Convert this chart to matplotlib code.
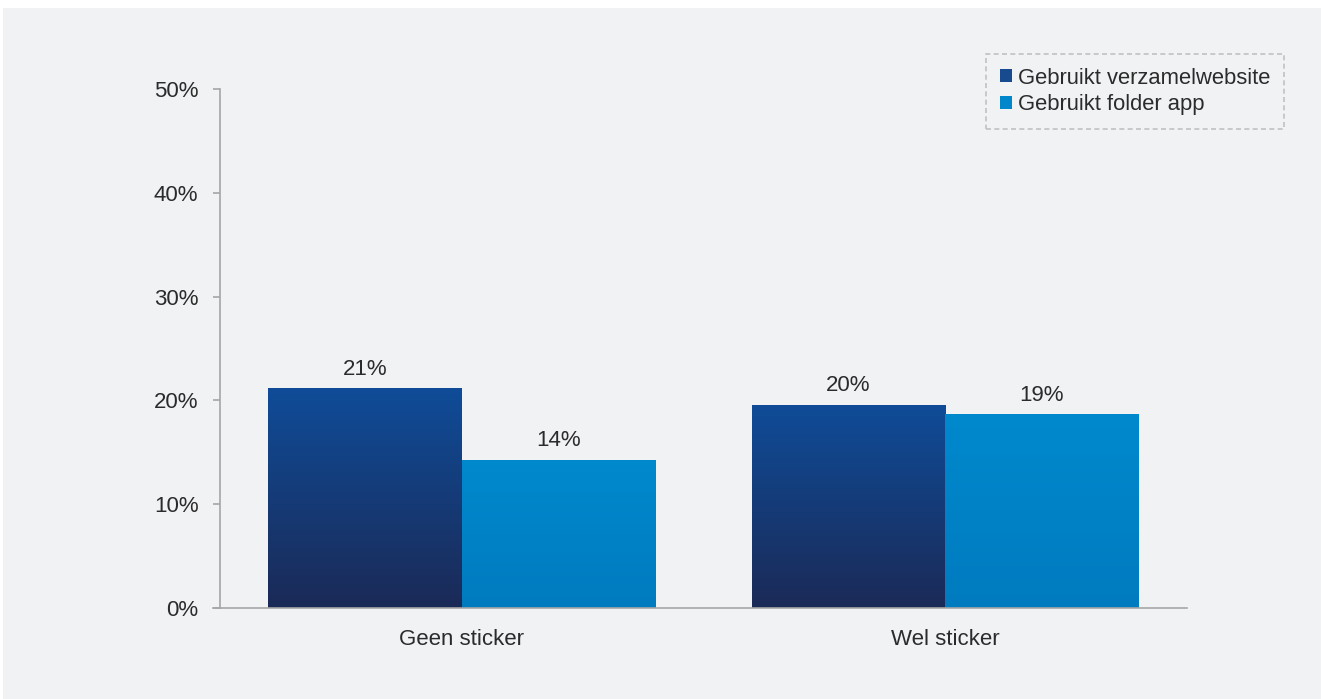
import matplotlib
matplotlib.use("Agg")
import matplotlib.pyplot as plt
import numpy as np
from matplotlib.patches import Rectangle
from matplotlib.colors import LinearSegmentedColormap

categories = ["Geen sticker", "Wel sticker"]
series_names = ["Gebruikt verzamelwebsite", "Gebruikt folder app"]
verzamelwebsite = [21.2, 19.6]
folder_app = [14.3, 18.7]
labels_verzamel = ["21%", "20%"]
labels_folder = ["14%", "19%"]
yticks = [0, 10, 20, 30, 40, 50]
ytick_labels = ["0%", "10%", "20%", "30%", "40%", "50%"]

plt.rcParams['font.family'] = ['Liberation Sans', 'DejaVu Sans']
text_color = "#2b2b2b"
axis_color = "#a6a6a6"
fs = 16

fig = plt.figure(figsize=(13.21, 6.99), dpi=100)
fig.patch.set_facecolor("white")
fig.add_artist(Rectangle((3/1321, 0), 1 - 3/1321, (699-8)/699, transform=fig.transFigure,
                         facecolor="#f1f2f4", edgecolor="none", zorder=0))

ax = fig.add_axes([220/1321, 1-608/699, (1187-220)/1321, (608-89)/699])
ax.set_facecolor("none")

x = np.arange(len(categories))
w = 0.4
dark_cmap = LinearSegmentedColormap.from_list("dark", ["#1b2a57", "#0f4c98"])
light_cmap = LinearSegmentedColormap.from_list("light", ["#007bc0", "#0089cd"])

bars1 = ax.bar(x - w/2, verzamelwebsite, width=w, color="#174a8f", label=series_names[0], zorder=2)
bars2 = ax.bar(x + w/2, folder_app, width=w, color="#0086cb", label=series_names[1], zorder=2)

grad = np.linspace(0, 1, 256).reshape(-1, 1)
for bars, cmap in ((bars1, dark_cmap), (bars2, light_cmap)):
    for b in bars:
        b.set_facecolor("none")
        x0, y0 = b.get_x(), b.get_y()
        im = ax.imshow(grad, cmap=cmap, origin="lower", aspect="auto",
                       extent=[x0, x0 + b.get_width(), y0, y0 + b.get_height()], zorder=2)
        im.set_clip_path(b)

for bars, labs in ((bars1, labels_verzamel), (bars2, labels_folder)):
    for b, lab in zip(bars, labs):
        ax.annotate(lab, (b.get_x() + b.get_width()/2, b.get_height()),
                    xytext=(0, 6), textcoords="offset points", ha="center", va="bottom",
                    fontsize=fs, color=text_color)

ax.set_xlim(-0.5, 1.5)
ax.set_ylim(0, 50)
ax.set_yticks(yticks)
ax.set_yticklabels(ytick_labels)
ax.set_xticks(x)
ax.set_xticklabels(categories)
ax.tick_params(axis="y", length=5, width=1.2, color=axis_color, labelsize=fs, labelcolor=text_color, pad=10.5)
ax.tick_params(axis="x", length=0, labelsize=fs, labelcolor=text_color, pad=15)
for s in ["top", "right"]:
    ax.spines[s].set_visible(False)
for s in ["left", "bottom"]:
    ax.spines[s].set_color(axis_color)
    ax.spines[s].set_linewidth(1.2)
ax.spines["bottom"].set_bounds(-0.5 - 7/483, 1.5)

leg = ax.legend(handles=[bars1, bars2], labels=series_names, loc="upper left",
                bbox_to_anchor=(986/1321, 1-54/699), bbox_transform=fig.transFigure,
                frameon=True, fontsize=15.8, handlelength=0.55, handleheight=0.55,
                handletextpad=0.3, borderpad=0.62, labelspacing=0.25, borderaxespad=0,
                fancybox=False)
for h, c in zip(leg.legend_handles, ["#174a8f", "#0086cb"]):
    h.set_facecolor(c)
for t in leg.get_texts():
    t.set_color(text_color)
fr = leg.get_frame()
fr.set_facecolor("none")
fr.set_edgecolor("#b5b5b5")
fr.set_linestyle((0, (3, 2)))
fr.set_linewidth(1.2)

fig.savefig("out.png", dpi=100, facecolor=fig.get_facecolor())
